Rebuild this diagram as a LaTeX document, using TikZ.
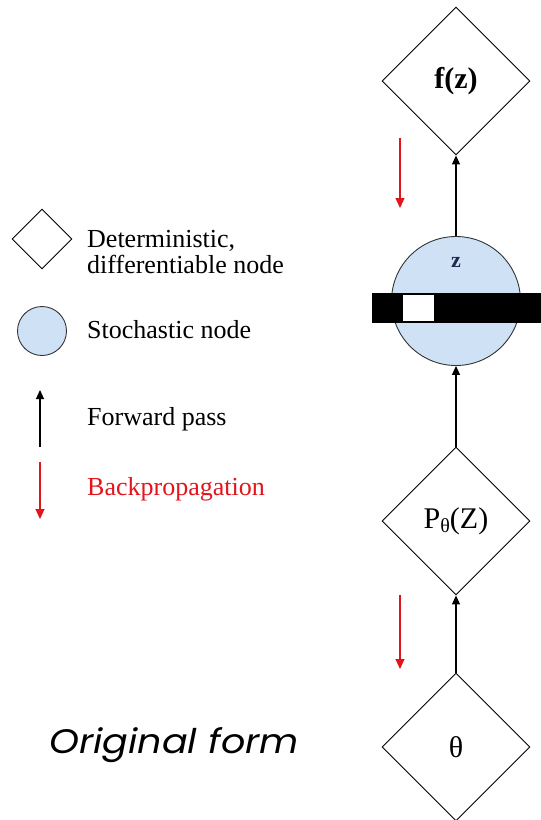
\documentclass[tikz,border=0pt]{standalone}
\usepackage{fontspec}
\setmainfont{Liberation Serif}
\newfontfamily\capfont{Poppins}
\usetikzlibrary{shapes.geometric,arrows.meta}
\definecolor{stochblue}{RGB}{207,226,245}
\definecolor{bpred}{RGB}{226,20,28}
\definecolor{znavy}{RGB}{30,42,80}
\begin{document}
\begin{tikzpicture}[x=1pt,y=-1pt,
  detnode/.style={diamond,draw=black,line width=0.9pt,minimum width=148pt,minimum height=148pt,inner sep=0pt,font=\fontsize{30}{34}\selectfont},
  stochnode/.style={circle,draw=black!80,line width=0.9pt,fill=stochblue,minimum size=#1,inner sep=0pt},
  fwd/.style={line width=1.2pt,-{Triangle[length=9pt,width=8pt]}},
  bwd/.style={line width=1.1pt,draw=bpred,-{Triangle[length=10pt,width=9pt]}},
  legtext/.style={anchor=base west,font=\fontsize{26}{30}\selectfont,inner sep=0pt}
]
\useasboundingbox (0,0) rectangle (541,820);
% main chain
\node[detnode] (f) at (456,81) {\textbf{f(z)}};
\node[stochnode=129pt] (z) at (456,301) {};
\node[detnode] (p) at (456,521) {P\raisebox{-0.3ex}{\fontsize{20}{22}\selectfont θ}(Z)};
\node[detnode] (t) at (456,747) {θ};
\node[font=\bfseries\fontsize{22}{24}\selectfont,text=znavy] (zl) at (456,262) {z};
\fill[black] (372,293) rectangle (541,323);
\fill[white] (403,295) rectangle (434,321);
\draw[fwd] (t.north) -- (p.south);
\draw[fwd] (p.north) -- (z.south);
\draw[fwd] (z.north) -- (f.south);
% backprop arrows
\coordinate (b1s) at (400,138);
\coordinate (b1e) at (400,208);
\coordinate (b2s) at (400,595);
\coordinate (b2e) at (400,669);
\draw[bwd] (b1s) -- (b1e);
\draw[bwd] (b2s) -- (b2e);
% legend
\node[diamond,draw=black,line width=0.9pt,minimum width=60pt,minimum height=60pt,inner sep=0pt] (ld) at (42,239) {};
\node[stochnode=49pt] (lc) at (42,331) {};
\coordinate (lfs) at (40,447);
\coordinate (lfe) at (40,390);
\draw[fwd] (lfs) -- (lfe);
\coordinate (lbs) at (40,462);
\coordinate (lbe) at (40,519);
\draw[bwd] (lbs) -- (lbe);
\node[legtext] (t1) at (87,247) {Deterministic,};
\node[legtext] (t2) at (87,273) {differentiable node};
\node[legtext] (t3) at (87,338) {Stochastic node};
\node[legtext] (t4) at (87,425) {Forward pass};
\node[legtext,text=bpred] (t5) at (87,495) {Backpropagation};
\node[font=\capfont\itshape\fontsize{34}{38}\selectfont,inner sep=0pt] (cap) at (174,745) {\scalebox{1.12}[1]{Original form}};
\end{tikzpicture}
\end{document}
